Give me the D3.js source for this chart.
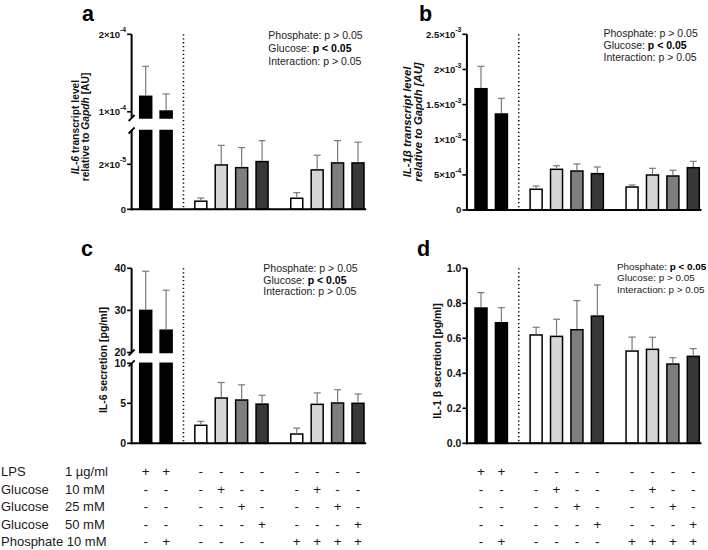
<!DOCTYPE html>
<html><head><meta charset="utf-8">
<script src="https://cdn.jsdelivr.net/npm/d3@7"></script>
<style>
body{margin:0;background:#fff;}
svg{display:block;font-family:Arial,"Liberation Sans",sans-serif;}
</style></head>
<body><svg id="chart" width="708" height="550"></svg>
<script>
// ---------------- DATA ----------------
const categories = ["LPS","LPS+Pi","Ctrl","G10","G25","G50","Pi","Pi+G10","Pi+G25","Pi+G50"];
const groupIndex = [0,0,1,1,1,1,2,2,2,2];
const fillKeys = ["lps","lps","none","g10","g25","g50","none","g10","g25","g50"];

const il6Transcript    = [1.20e-4, 1.01e-4, 3.6e-6, 1.97e-5, 1.85e-5, 2.12e-5, 4.9e-6, 1.75e-5, 2.06e-5, 2.06e-5];
const il6TranscriptErr = [0.387e-4, 0.22e-4, 1.4e-6, 0.87e-5, 0.89e-5, 0.93e-5, 2.5e-6, 0.65e-5, 0.99e-5, 0.92e-5];

const il1bTranscript    = [1.726e-3, 1.366e-3, 2.95e-4, 5.79e-4, 5.55e-4, 5.17e-4, 3.27e-4, 4.98e-4, 4.84e-4, 6.02e-4];
const il1bTranscriptErr = [0.319e-3, 0.223e-3, 0.46e-4, 0.51e-4, 1.0e-4, 0.95e-4, 0.29e-4, 0.95e-4, 0.81e-4, 0.91e-4];

const il6Secretion    = [30.0, 25.3, 2.25, 5.66, 5.41, 4.9, 1.16, 4.87, 5.04, 5.0];
const il6SecretionErr = [9.3, 9.5, 0.5, 1.94, 1.9, 1.1, 0.74, 1.43, 1.66, 1.16];

const il1bSecretion    = [0.773, 0.689, 0.619, 0.611, 0.649, 0.727, 0.527, 0.537, 0.453, 0.497];
const il1bSecretionErr = [0.088, 0.086, 0.044, 0.098, 0.166, 0.178, 0.080, 0.069, 0.036, 0.044];

// tick labels: [value, base, exponent]
const ticksA_low  = [[0,"0",null],[2e-5,"2×10","-5"]];
const ticksA_high = [[1e-4,"1×10","-4"],[2e-4,"2×10","-4"]];
const ticksB = [[0,"0",null],[5e-4,"5×10","-4"],[1e-3,"1×10","-3"],[1.5e-3,"1.5×10","-3"],[2e-3,"2×10","-3"],[2.5e-3,"2.5×10","-3"]];
const ticksC_low  = [0,5,10];
const ticksC_high = [20,30,40];
const ticksD = [0,0.2,0.4,0.6,0.8,1.0];

const statsA = [["Phosphate: ","p > 0.05",false],["Glucose: ","p < 0.05",true],["Interaction: ","p > 0.05",false]];
const statsB = statsA;
const statsC = statsA;
const statsD = [["Phosphate: ","p < 0.05",true],["Glucose: ","p > 0.05",false],["Interaction: ","p > 0.05",false]];

const tableRows = ["LPS","Glucose","Glucose","Glucose","Phosphate 10 mM"];
const tableUnits = ["1 µg/ml","10 mM","25 mM","50 mM",""];
const tableSigns = [
  ["+","+","-","-","-","-","-","-","-","-"],
  ["-","-","-","+","-","-","-","+","-","-"],
  ["-","-","-","-","+","-","-","-","+","-"],
  ["-","-","-","-","-","+","-","-","-","+"],
  ["-","+","-","-","-","-","+","+","+","+"]
];

// ---------------- STYLE ----------------
const fills = {lps:"#000000", none:"#ffffff", g10:"#d6d6d6", g25:"#7e7e7e", g50:"#383838"};
const svg = d3.select("#chart");

const slot = categories.map((c,i)=> i + groupIndex[i]*0.7);
const xLeft = d3.scaleLinear().domain([0,10.4]).range([145.7,358]);
const shiftRight = 335.3;
const barW = 12;

function drawPanel(opt){
  const g = svg.append("g");
  const x = v => xLeft(v) + opt.dx;
  const axisX = x(-0.69);
  const endX = x(10.8);
  const segs = opt.segments.map(s => ({dom:s.dom, sc:d3.scaleLinear().domain(s.dom).range(s.rng)}));
  const y0 = segs[0].sc(0);
  const yTop = segs[segs.length-1].sc(segs[segs.length-1].dom[1]);

  // dotted separator
  g.append("line").attr("x1",x(1.85)).attr("x2",x(1.85)).attr("y1",yTop).attr("y2",y0)
    .attr("stroke","#111").attr("stroke-width",1.6).attr("stroke-dasharray","1.3,2.6");

  // bars
  opt.values.forEach((v,i)=>{
    const cx = x(slot[i]);
    segs.forEach(s=>{
      if (v <= s.dom[0]) return;
      const top = Math.min(v, s.dom[1]);
      const yA = s.sc(top), yB = s.sc(s.dom[0]);
      g.append("rect").attr("x",cx-barW/2).attr("y",yA).attr("width",barW).attr("height",yB-yA)
        .attr("fill",fills[fillKeys[i]]).attr("stroke","#000").attr("stroke-width",1.5);
    });
    // error bar (upper only)
    const e = v + opt.errs[i];
    const s = segs.find(s => v >= s.dom[0] && v <= s.dom[1]) || segs[segs.length-1];
    const yv = s.sc(v), ye = s.sc(e);
    g.append("line").attr("x1",cx).attr("x2",cx).attr("y1",yv-0.75).attr("y2",ye)
      .attr("stroke","#7a7a7a").attr("stroke-width",1.2);
    g.append("line").attr("x1",cx-3.5).attr("x2",cx+3.5).attr("y1",ye).attr("y2",ye)
      .attr("stroke","#7a7a7a").attr("stroke-width",1.2);
  });

  // y axis segments
  segs.forEach((s,k)=>{
    g.append("line").attr("x1",axisX).attr("x2",axisX).attr("y1",s.sc(s.dom[0]) + (k===0?1:0)).attr("y2",s.sc(s.dom[1]))
      .attr("stroke","#000").attr("stroke-width",2);
    if (segs.length>1){
      const yy = k===0 ? s.sc(s.dom[1]) : s.sc(s.dom[0]);
      g.append("line").attr("x1",axisX-3).attr("y1",yy+3).attr("x2",axisX+3).attr("y2",yy-3).attr("stroke","#000").attr("stroke-width",1.8);
    }
  });
  // x baseline
  g.append("line").attr("x1",axisX-1).attr("x2",endX).attr("y1",y0).attr("y2",y0).attr("stroke","#000").attr("stroke-width",2);

  // ticks
  opt.ticks.forEach(t=>{
    const s = segs[t.seg];
    const yy = s.sc(t.v);
    g.append("line").attr("x1",axisX-4.5).attr("x2",axisX).attr("y1",yy).attr("y2",yy).attr("stroke","#000").attr("stroke-width",1.6);
    const tx = g.append("text").attr("x",axisX-5.5).attr("y",yy).attr("dy","0.35em")
      .attr("text-anchor","end").attr("font-size",opt.tickSize).attr("font-weight","bold").attr("fill","#111");
    tx.append("tspan").text(t.base);
    if (t.exp){
      tx.append("tspan").attr("font-size",opt.tickSize*0.72).attr("dy","-0.75em").text(t.exp);
    }
  });

  // y label
  opt.ylabel.forEach(l=>{
    const t = g.append("text").attr("transform",`translate(${l.x},${l.y}) rotate(-90)`)
      .attr("text-anchor","middle").attr("font-size",l.size).attr("font-weight","bold").attr("fill","#111");
    l.parts.forEach(p=>{
      t.append("tspan").attr("font-style",p[1]?"italic":"normal").text(p[0]);
    });
  });

  // stats annotation
  opt.stats.forEach((st,k)=>{
    const t = g.append("text").attr("x",opt.statX).attr("y",opt.statY[k]).attr("font-size",opt.statSize).attr("fill","#222");
    t.append("tspan").text(st[0]);
    t.append("tspan").attr("font-weight",st[2]?"bold":"normal").attr("fill",st[2]?"#000":"#222").text(st[1]);
  });

  // panel letter
  svg.append("text").attr("x",opt.letter[1]).attr("y",opt.letter[2]).attr("font-size",21.5)
    .attr("font-weight","bold").attr("fill","#000").text(opt.letter[0]);
}

// Panel a
drawPanel({
  dx:0, values:il6Transcript, errs:il6TranscriptErr,
  segments:[{dom:[0,3.5e-5], rng:[209.3,130.5]},{dom:[0.92e-4,2e-4], rng:[118,34.3]}],
  ticks:[...ticksA_low.map(t=>({seg:0,v:t[0],base:t[1],exp:t[2]})), ...ticksA_high.map(t=>({seg:1,v:t[0],base:t[1],exp:t[2]}))],
  tickSize:9.5,
  ylabel:[{x:78.5,y:127,size:10.3,parts:[["IL-6",true],[" transcript level",false]]},
          {x:89,y:127,size:10.3,parts:[["relative to ",false],["Gapdh",true],[" [AU]",false]]}],
  stats:statsA, statSize:10.5, statX:268.3, statY:[39,52,65],
  letter:["a",82,21]
});
// Panel b
drawPanel({
  dx:shiftRight, values:il1bTranscript, errs:il1bTranscriptErr,
  segments:[{dom:[0,2.5e-3], rng:[210,34.3]}],
  ticks:ticksB.map(t=>({seg:0,v:t[0],base:t[1],exp:t[2]})),
  tickSize:9.5,
  ylabel:[{x:411,y:122,size:11.3,parts:[["IL-1β transcript level",true]]},
          {x:421.5,y:122,size:11.3,parts:[["relative to Gapdh [AU]",true]]}],
  stats:statsB, statSize:10.5, statX:603.5, statY:[37,49,61],
  letter:["b",419,21]
});
// Panel c
drawPanel({
  dx:0, values:il6Secretion, errs:il6SecretionErr,
  segments:[{dom:[0,10], rng:[443.3,363.3]},{dom:[20,40], rng:[352.5,268.3]}],
  ticks:[...ticksC_low.map(v=>({seg:0,v:v,base:String(v),exp:null})), ...ticksC_high.map(v=>({seg:1,v:v,base:String(v),exp:null}))],
  tickSize:10.5,
  ylabel:[{x:107,y:360,size:10.5,parts:[["IL-6 secretion [pg/ml]",false]]}],
  stats:statsC, statSize:10.5, statX:263.3, statY:[272,283.5,295],
  letter:["c",81,256]
});
// Panel d
drawPanel({
  dx:shiftRight, values:il1bSecretion, errs:il1bSecretionErr,
  segments:[{dom:[0,1], rng:[443.3,268.3]}],
  ticks:ticksD.map(v=>({seg:0,v:v,base:d3.format(".1f")(v),exp:null})),
  tickSize:10.5,
  ylabel:[{x:441,y:361,size:10.5,parts:[["IL-1 β secretion [pg/ml]",false]]}],
  stats:statsD, statSize:9.9, statX:617, statY:[269.5,281,292.5],
  letter:["d",417,256]
});

// Table
const rowY = [476,493.5,511,528.5,546];
const tbl = svg.append("g").attr("font-size",13).attr("fill","#1a1a1a");
tableRows.forEach((r,k)=>{
  tbl.append("text").attr("x",1).attr("y",rowY[k]).text(r);
  if (tableUnits[k]) tbl.append("text").attr("x",65).attr("y",rowY[k]).text(tableUnits[k]);
  [0, shiftRight].forEach(dx=>{
    tableSigns[k].forEach((s,i)=>{
      tbl.append("text").attr("x",xLeft(slot[i])+dx).attr("y",rowY[k]).attr("text-anchor","middle")
        .attr("font-size",13.5).text(s);
    });
  });
});
</script></body></html>
